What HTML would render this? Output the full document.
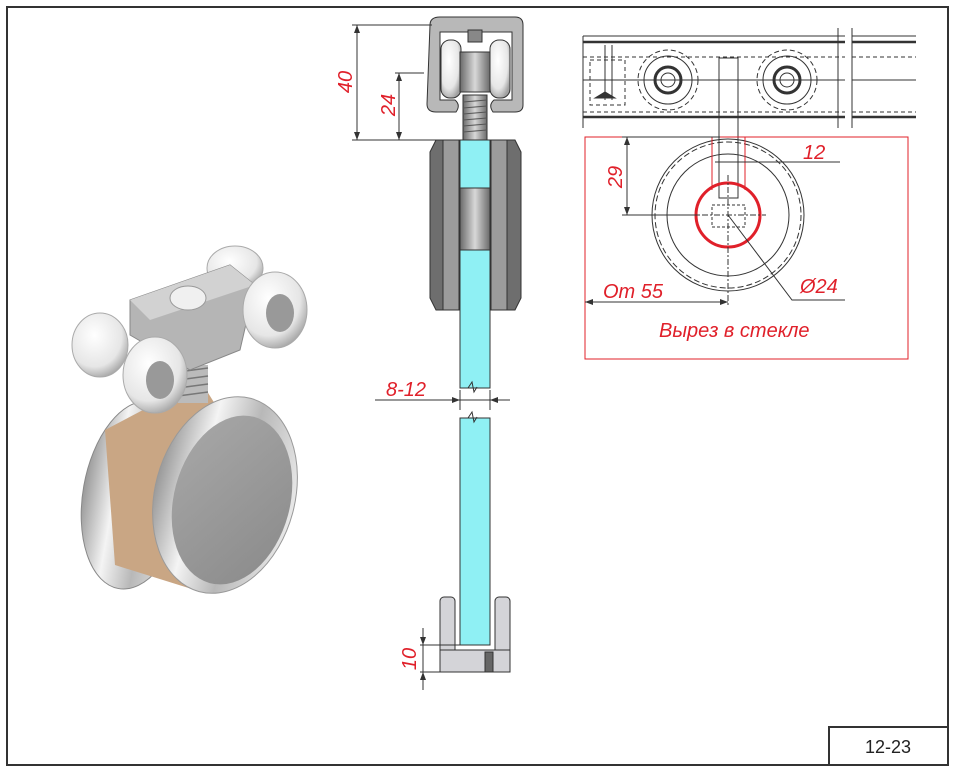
<!DOCTYPE html>
<html><head><meta charset="utf-8"><style>
html,body{margin:0;padding:0;background:#fff;}
svg{display:block;}
text{font-family:"Liberation Sans",sans-serif;}
.r{fill:#e0202a;font-style:italic;font-size:20px;}
</style></head><body>
<svg width="957" height="770" viewBox="0 0 957 770" xmlns="http://www.w3.org/2000/svg">
<defs>
<linearGradient id="met" x1="0" y1="0" x2="1" y2="0"><stop offset="0" stop-color="#9a9a9a"/><stop offset=".3" stop-color="#f4f4f4"/><stop offset=".6" stop-color="#b8b8b8"/><stop offset="1" stop-color="#e8e8e8"/></linearGradient>
<linearGradient id="face" x1="0" y1="0" x2="1" y2="1"><stop offset="0" stop-color="#a8a8a8"/><stop offset="1" stop-color="#8a8a8a"/></linearGradient>
<radialGradient id="wh" cx=".4" cy=".35" r=".7"><stop offset="0" stop-color="#ffffff"/><stop offset=".7" stop-color="#e6e6e6"/><stop offset="1" stop-color="#a0a0a0"/></radialGradient>
<linearGradient id="gr" x1="0" y1="0" x2="1" y2="0"><stop offset="0" stop-color="#6a6a6a"/><stop offset=".5" stop-color="#d8d8d8"/><stop offset="1" stop-color="#6a6a6a"/></linearGradient>
</defs>
<rect x="7" y="7" width="941" height="758" fill="none" stroke="#333" stroke-width="2"/>
<rect x="829" y="727" width="119" height="38" fill="#fff" stroke="#333" stroke-width="2"/>
<text x="888" y="753" font-size="18" text-anchor="middle" fill="#222">12-23</text>

<g>
<ellipse cx="135" cy="495" rx="52" ry="95" transform="rotate(10 135 495)" fill="url(#met)" stroke="#888"/>
<path d="M105 430 L200 380 L250 460 L195 590 L115 565 Z" fill="#c9a684"/>
<ellipse cx="225" cy="495" rx="70" ry="100" transform="rotate(15 225 495)" fill="url(#met)" stroke="#999"/>
<ellipse cx="232" cy="500" rx="58" ry="86" transform="rotate(15 232 500)" fill="url(#face)"/>
<rect x="178" y="365" width="30" height="38" fill="#bbb"/>
<g stroke="#777" stroke-width="1.5"><line x1="178" y1="372" x2="208" y2="368"/><line x1="178" y1="380" x2="208" y2="376"/><line x1="178" y1="388" x2="208" y2="384"/><line x1="178" y1="396" x2="208" y2="392"/></g>
<ellipse cx="235" cy="268" rx="28" ry="22" fill="url(#wh)" stroke="#aaa"/>
<ellipse cx="100" cy="345" rx="28" ry="32" fill="url(#wh)" stroke="#aaa"/>
<polygon points="130,300 230,265 255,285 240,350 190,370 130,335" fill="#b5b5b5" stroke="#888"/>
<polygon points="130,300 230,265 255,285 150,320" fill="#d2d2d2"/>
<ellipse cx="188" cy="298" rx="18" ry="12" fill="#f0f0f0" stroke="#999"/>
<ellipse cx="275" cy="310" rx="32" ry="38" fill="url(#wh)" stroke="#aaa"/>
<ellipse cx="280" cy="313" rx="14" ry="19" fill="#999"/>
<ellipse cx="155" cy="375" rx="32" ry="38" fill="url(#wh)" stroke="#aaa"/>
<ellipse cx="160" cy="380" rx="14" ry="19" fill="#999"/>
</g>

<g stroke="#333" stroke-width="1">
<path d="M430 25 Q430 17 440 17 L515 17 Q523 17 523 25 L523 105 Q523 112 515 112 L493 112 Q488 105 494 100 L512 100 L512 32 L440 32 L440 100 L455 100 Q461 105 456 112 L436 112 Q427 112 427 104 Z" fill="#b8b8b8"/>
<rect x="441" y="40" width="20" height="58" rx="9" fill="url(#wh)"/>
<rect x="490" y="40" width="20" height="58" rx="9" fill="url(#wh)"/>
<rect x="460" y="52" width="30" height="40" fill="url(#gr)"/>
<rect x="468" y="30" width="14" height="12" fill="#888"/>
<rect x="463" y="95" width="24" height="45" fill="url(#gr)"/>
<g stroke="#555"><line x1="463" y1="102" x2="487" y2="100"/><line x1="463" y1="108" x2="487" y2="106"/><line x1="463" y1="114" x2="487" y2="112"/><line x1="463" y1="120" x2="487" y2="118"/><line x1="463" y1="126" x2="487" y2="124"/><line x1="463" y1="132" x2="487" y2="130"/></g>
<polygon points="436,140 459,140 459,310 436,310 430,298 430,152" fill="#6e6e6e"/>
<rect x="443" y="140" width="16" height="170" fill="#9c9c9c"/>
<polygon points="491,140 515,140 521,152 521,298 515,310 491,310" fill="#6e6e6e"/>
<rect x="491" y="140" width="16" height="170" fill="#9c9c9c"/>
<rect x="460" y="140" width="30" height="48" fill="#8ff0f4"/>
<rect x="460" y="188" width="30" height="62" fill="url(#gr)"/>
<rect x="460" y="250" width="30" height="138" fill="#8ff0f4"/>
<path d="M460 388 L490 388 M468 388 l4 -6 l2 10 l3 -5" fill="none"/>
<rect x="460" y="418" width="30" height="227" fill="#8ff0f4"/>
<path d="M460 418 L490 418 M468 418 l4 -6 l2 10 l3 -5" fill="none"/>
<rect x="440" y="597" width="15" height="60" rx="4" fill="#d4d4d8"/>
<rect x="495" y="597" width="15" height="60" rx="4" fill="#d4d4d8"/>
<rect x="440" y="650" width="70" height="22" fill="#d4d4d8"/>
<rect x="485" y="652" width="8" height="20" fill="#666"/>
</g>
<g stroke="#333" stroke-width="1" fill="none">
<line x1="352" y1="25" x2="432" y2="25"/><line x1="395" y1="73" x2="424" y2="73"/><line x1="352" y1="140" x2="440" y2="140"/>
<line x1="357" y1="25" x2="357" y2="140"/><line x1="399" y1="73" x2="399" y2="140"/>
<line x1="375" y1="400" x2="510" y2="400"/><line x1="460" y1="390" x2="460" y2="410"/><line x1="490" y1="390" x2="490" y2="410"/>
<line x1="423" y1="628" x2="423" y2="690"/><line x1="420" y1="645" x2="460" y2="645"/><line x1="420" y1="672" x2="440" y2="672"/>
</g>
<g fill="#333">
<polygon points="357,25 354,33 360,33"/><polygon points="357,140 354,132 360,132"/>
<polygon points="399,73 396,81 402,81"/><polygon points="399,140 396,132 402,132"/>
<polygon points="460,400 452,397 452,403"/><polygon points="490,400 498,397 498,403"/>
<polygon points="423,645 420,637 426,637"/><polygon points="423,672 420,680 426,680"/>
</g>
<text class="r" transform="translate(352,82) rotate(-90)" text-anchor="middle">40</text>
<text class="r" transform="translate(395,105) rotate(-90)" text-anchor="middle">24</text>
<text class="r" x="386" y="396">8-12</text>
<text class="r" transform="translate(416,659) rotate(-90)" text-anchor="middle">10</text>

<g stroke="#333" stroke-width="1" fill="none">
<line x1="583" y1="36" x2="845" y2="36"/><line x1="852" y1="36" x2="916" y2="36"/>
<line x1="583" y1="42" x2="845" y2="42" stroke-width="2.5"/><line x1="852" y1="42" x2="916" y2="42" stroke-width="2.5"/>
<line x1="583" y1="57" x2="845" y2="57" stroke-dasharray="4 3"/><line x1="852" y1="57" x2="916" y2="57" stroke-dasharray="4 3"/>
<line x1="583" y1="80" x2="845" y2="80"/><line x1="852" y1="80" x2="916" y2="80"/>
<line x1="583" y1="112" x2="845" y2="112" stroke-dasharray="4 3"/><line x1="852" y1="112" x2="916" y2="112" stroke-dasharray="4 3"/>
<line x1="583" y1="117" x2="845" y2="117" stroke-width="2.5"/><line x1="852" y1="117" x2="916" y2="117" stroke-width="2.5"/>
<line x1="583" y1="36" x2="583" y2="128"/>
<line x1="838" y1="28" x2="838" y2="128"/><line x1="852" y1="28" x2="852" y2="128"/>
<circle cx="668" cy="80" r="30" stroke-dasharray="5 3"/><circle cx="668" cy="80" r="24"/><circle cx="668" cy="80" r="13" stroke-width="3"/><circle cx="668" cy="80" r="7"/>
<circle cx="787" cy="80" r="30" stroke-dasharray="5 3"/><circle cx="787" cy="80" r="24"/><circle cx="787" cy="80" r="13" stroke-width="3"/><circle cx="787" cy="80" r="7"/>
<rect x="590" y="60" width="35" height="45" stroke-dasharray="4 3"/>
<line x1="605" y1="45" x2="605" y2="100"/><line x1="612" y1="45" x2="612" y2="100"/>
<path d="M595 98 l10 -6 l10 6 z" fill="#333"/>
<rect x="719" y="58" width="19" height="140"/>
<rect x="585" y="137" width="323" height="222" stroke="#e0202a"/>
<circle cx="728" cy="215" r="76"/><circle cx="728" cy="215" r="73" stroke-dasharray="6 3"/>
<circle cx="728" cy="215" r="61"/>
<line x1="712" y1="137" x2="712" y2="190" stroke="#e0202a"/><line x1="745" y1="137" x2="745" y2="190" stroke="#e0202a"/>
<circle cx="728" cy="215" r="32" stroke="#e0202a" stroke-width="3"/>
<line x1="690" y1="215" x2="766" y2="215" stroke-dasharray="6 2 2 2"/>
<line x1="728" y1="175" x2="728" y2="305" stroke-dasharray="6 2 2 2"/>
<rect x="712" y="205" width="33" height="22" stroke-dasharray="3 2"/>
<line x1="622" y1="137" x2="720" y2="137"/><line x1="622" y1="215" x2="700" y2="215"/>
<line x1="627" y1="137" x2="627" y2="215"/>
<line x1="715" y1="162" x2="840" y2="162"/>
<polyline points="728,215 792,300 845,300"/>
<line x1="585" y1="302" x2="728" y2="302"/>
</g>
<g fill="#333">
<polygon points="627,137 624,145 630,145"/><polygon points="627,215 624,207 630,207"/>
<polygon points="585,302 593,299 593,305"/><polygon points="728,302 720,299 720,305"/>
</g>
<text class="r" transform="translate(622,177) rotate(-90)" text-anchor="middle">29</text>
<text class="r" x="803" y="159">12</text>
<text class="r" x="800" y="293">Ø24</text>
<text class="r" x="603" y="298">От 55</text>
<text class="r" x="659" y="337">Вырез в стекле</text>
</svg>
</body></html>
